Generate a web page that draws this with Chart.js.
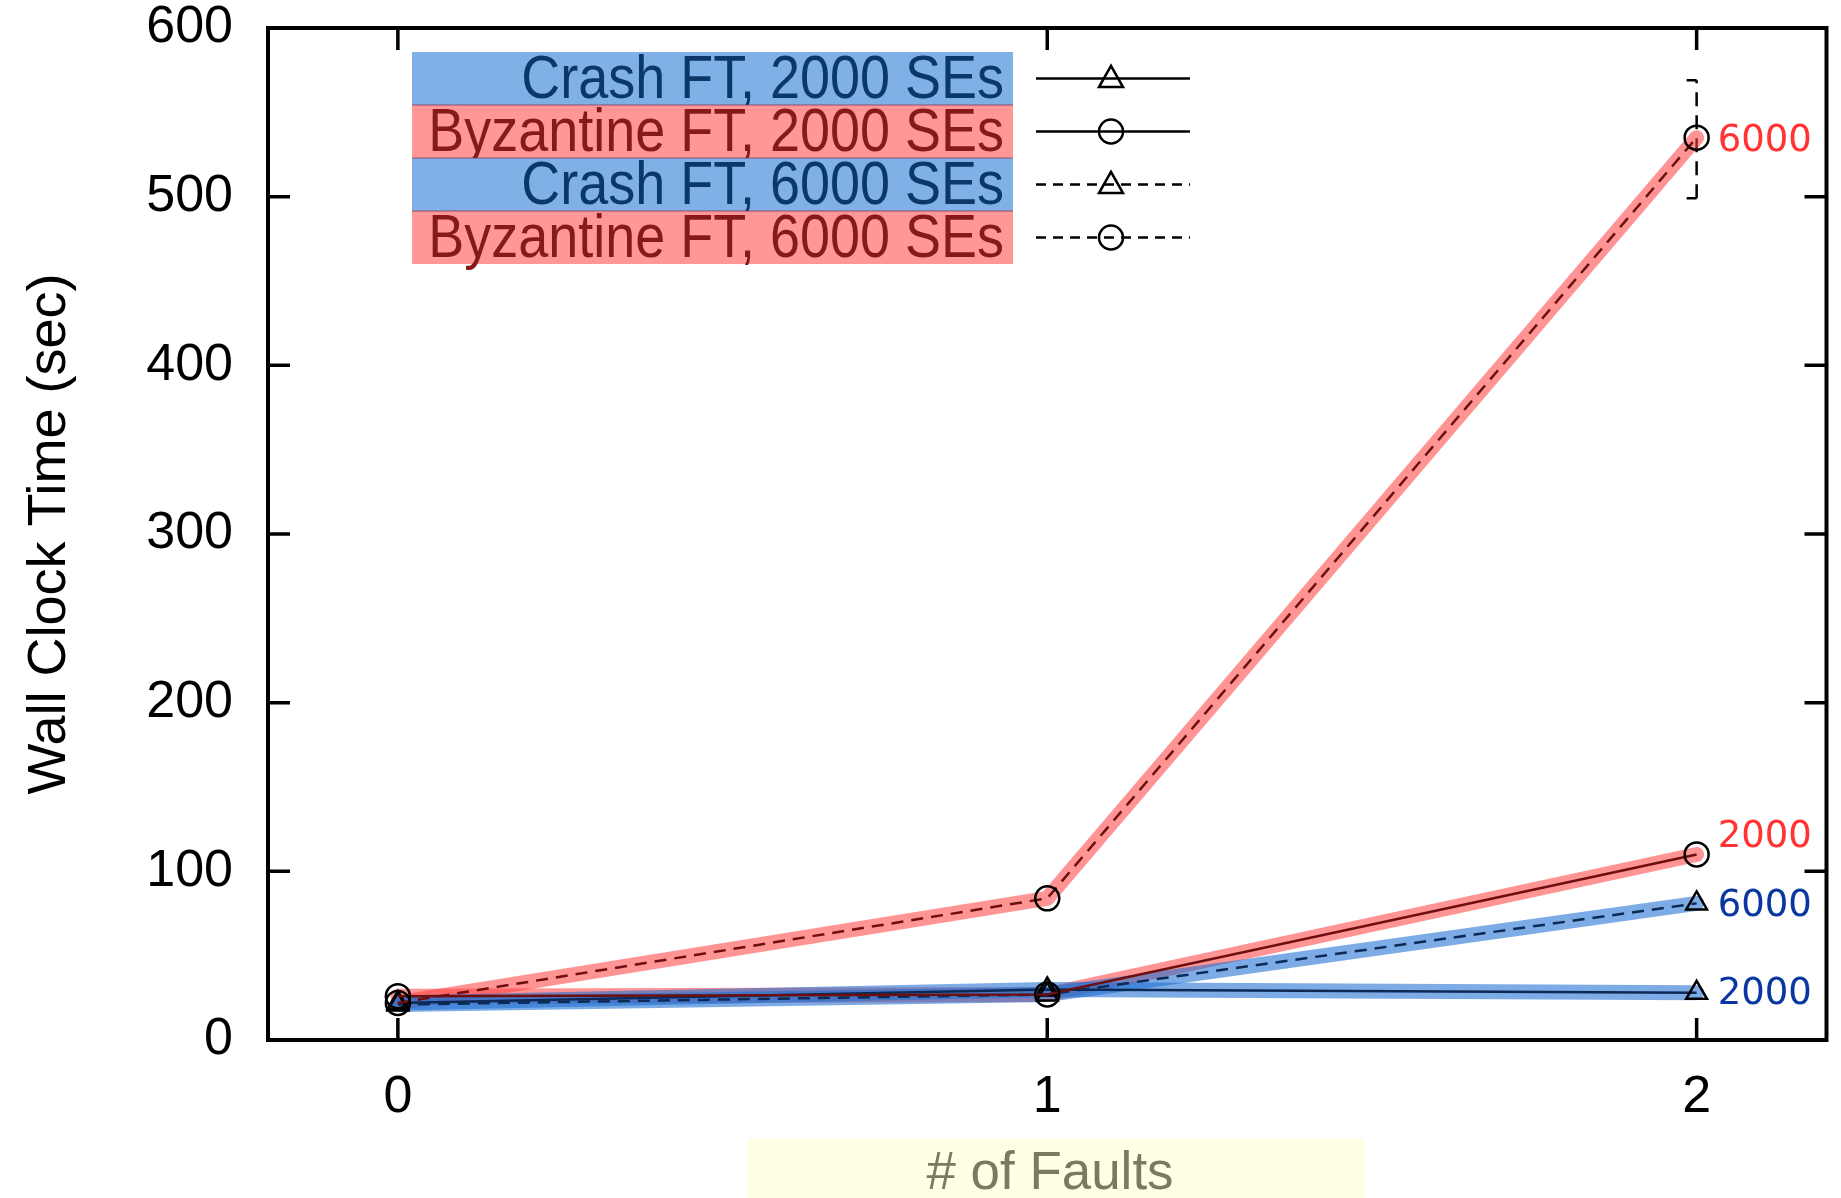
<!DOCTYPE html>
<html>
<head>
<meta charset="utf-8">
<script src="https://cdn.jsdelivr.net/npm/chart.js@4.4.1/dist/chart.umd.min.js"></script>
<style>
  html, body { margin: 0; padding: 0; background: #fff; }
  canvas { display: block; }
</style>
</head>
<body>
<canvas id="faultChart" width="1841" height="1198"></canvas>
<script>
// data
const faults = [0, 1, 2];
const yTicks = [0, 100, 200, 300, 400, 500, 600];
const crash2000 = [22, 30, 28];
const byz2000 = [26, 27, 110];
const crash6000 = [21, 27, 81];
const byz6000 = [22, 84, 535];
const byz6000Low = [21, 82, 499];
const byz6000High = [23, 86, 569];

const seriesNames = ['Crash FT, 2000 SEs', 'Byzantine FT, 2000 SEs', 'Crash FT, 6000 SEs', 'Byzantine FT, 6000 SEs'];
const endLabels = ['2000', '2000', '6000', '6000'];
const endLabelAt = [27, 120, 79, 533]; // value where the end label sits

const RED_BAND = 'rgba(255, 70, 70, 0.58)';
const BLUE_BAND = 'rgba(30, 110, 210, 0.58)';
const RED_LINE = '#6e0f0f';
const BLUE_LINE = '#0d2a57';

const pts = (arr) => faults.map((f, i) => ({x: f, y: arr[i]}));

const band = (arr, color, order) => ({
  data: pts(arr),
  borderColor: color,
  borderWidth: 15,
  pointRadius: 0,
  borderCapStyle: 'round',
  borderJoinStyle: 'round',
  fill: false,
  order: order
});

const thin = (arr, color, dash, style) => ({
  data: pts(arr),
  borderColor: color,
  borderWidth: 2.5,
  borderDash: dash,
  pointStyle: style,
  pointRadius: 12,
  pointBorderColor: '#000',
  pointBorderWidth: 2.5,
  pointBackgroundColor: 'rgba(0,0,0,0)',
  fill: false,
  order: 1
});

const legendStyles = [
  {box: '#80b1e6', text: '#0b3868', dash: [], marker: 'triangle'},
  {box: '#ff9797', text: '#861a1a', dash: [], marker: 'circle'},
  {box: '#80b1e6', text: '#0b3868', dash: [10, 7], marker: 'triangle'},
  {box: '#ff9797', text: '#861a1a', dash: [10, 7], marker: 'circle'}
];
const endColors = ['#0a36a0', '#ff3333', '#0a36a0', '#ff3333'];

function drawMarker(ctx, style, x, y, r) {
  ctx.beginPath();
  if (style === 'circle') {
    ctx.arc(x, y, r, 0, Math.PI * 2);
  } else {
    const h = r * 1.6;
    ctx.moveTo(x, y - h * 0.66);
    ctx.lineTo(x + r, y + h * 0.34 + 2);
    ctx.lineTo(x - r, y + h * 0.34 + 2);
    ctx.closePath();
  }
  ctx.stroke();
}

const decorPlugin = {
  id: 'decor',
  beforeDatasetsDraw(chart) {
    const {ctx, scales: {x, y}} = chart;
    ctx.save();
    // error bar on the byzantine 6000 series
    ctx.strokeStyle = '#000';
    ctx.lineWidth = 2.5;
    faults.forEach((f, i) => {
      const px = x.getPixelForValue(f);
      const lo = y.getPixelForValue(byz6000Low[i]);
      const hi = y.getPixelForValue(byz6000High[i]);
      if (lo - hi < 10) return;
      ctx.setLineDash([14, 9]);
      ctx.beginPath();
      ctx.moveTo(px, lo); ctx.lineTo(px, hi); ctx.stroke();
      ctx.setLineDash([]);
      ctx.beginPath();
      ctx.moveTo(px - 10, lo); ctx.lineTo(px, lo);
      ctx.moveTo(px - 10, hi); ctx.lineTo(px, hi);
      ctx.stroke();
    });
    ctx.restore();
  },
  afterDraw(chart) {
    const {ctx, chartArea: a, scales: {x, y}} = chart;
    ctx.save();

    // frame + inner ticks
    ctx.strokeStyle = '#000';
    ctx.lineWidth = 4;
    ctx.strokeRect(a.left, a.top, a.right - a.left, a.bottom - a.top);
    ctx.lineWidth = 3.5;
    ctx.beginPath();
    yTicks.forEach(v => {
      const py = y.getPixelForValue(v);
      ctx.moveTo(a.left, py); ctx.lineTo(a.left + 22, py);
      ctx.moveTo(a.right, py); ctx.lineTo(a.right - 22, py);
    });
    faults.forEach(v => {
      const px = x.getPixelForValue(v);
      ctx.moveTo(px, a.bottom); ctx.lineTo(px, a.bottom - 22);
      ctx.moveTo(px, a.top); ctx.lineTo(px, a.top + 22);
    });
    ctx.stroke();

    // end labels at x = 2
    ctx.font = '37px "DejaVu Sans"';
    ctx.textAlign = 'left';
    ctx.textBaseline = 'middle';
    endLabels.forEach((t, i) => {
      ctx.fillStyle = endColors[i];
      ctx.fillText(t, x.getPixelForValue(2) + 21, y.getPixelForValue(endLabelAt[i]));
    });

    // legend
    const lx0 = 412, lx1 = 1013, ly0 = 52, rowH = 53;
    seriesNames.forEach((name, i) => {
      const st = legendStyles[i];
      const top = ly0 + i * rowH;
      ctx.fillStyle = st.box;
      ctx.fillRect(lx0, top, lx1 - lx0, rowH);
      ctx.save();
      ctx.translate(1004, top + rowH / 2 + 2);
      ctx.scale(0.87, 1);
      ctx.fillStyle = st.text;
      ctx.font = '62px "Liberation Sans", Arial, sans-serif';
      ctx.textAlign = 'right';
      ctx.textBaseline = 'middle';
      ctx.fillText(name, 0, 0);
      ctx.restore();
      const cy = top + rowH / 2;
      ctx.strokeStyle = '#000';
      ctx.lineWidth = 2.5;
      ctx.setLineDash(st.dash);
      ctx.beginPath();
      ctx.moveTo(1036, cy); ctx.lineTo(1190, cy);
      ctx.stroke();
      ctx.setLineDash([]);
      drawMarker(ctx, st.marker, 1111, cy, 12);
    });
    ctx.fillStyle = 'rgba(120, 40, 80, 0.35)';
    for (let i = 1; i < 4; i++) ctx.fillRect(lx0, ly0 + i * rowH - 1, lx1 - lx0, 2);

    // y title
    ctx.save();
    ctx.translate(50, 534);
    ctx.rotate(-Math.PI / 2);
    ctx.fillStyle = '#000';
    ctx.font = '54px "Liberation Sans", Arial, sans-serif';
    ctx.textAlign = 'center';
    ctx.textBaseline = 'middle';
    ctx.fillText('Wall Clock Time (sec)', 0, 0);
    ctx.restore();

    // x title with its pale box
    ctx.fillStyle = '#ffffe3';
    ctx.fillRect(748, 1139, 617, 59);
    ctx.save();
    ctx.translate(1050, 1174);
    ctx.scale(0.98, 1);
    ctx.fillStyle = '#7a7a60';
    ctx.font = '54px "Liberation Sans", Arial, sans-serif';
    ctx.textAlign = 'center';
    ctx.textBaseline = 'middle';
    ctx.fillText('# of Faults', 0, 0);
    ctx.restore();

    ctx.restore();
  }
};

const chart = new Chart(document.getElementById('faultChart'), {
  type: 'line',
  data: {
    datasets: [
      band(byz6000, RED_BAND, 5),
      band(byz2000, RED_BAND, 5),
      band(crash6000, BLUE_BAND, 4),
      band(crash2000, BLUE_BAND, 4),
      thin(byz6000, RED_LINE, [12, 8], 'circle'),
      thin(byz2000, RED_LINE, [], 'circle'),
      thin(crash6000, BLUE_LINE, [12, 8], 'triangle'),
      thin(crash2000, BLUE_LINE, [], 'triangle')
    ]
  },
  options: {
    responsive: false,
    animation: false,
    layout: {padding: {top: 28, right: 9, left: 0, bottom: 0}},
    plugins: {
      legend: {display: false},
      tooltip: {enabled: false}
    },
    scales: {
      x: {
        type: 'linear',
        min: -0.2,
        max: 2.2,
        afterFit: (s) => { s.height = 158; s.paddingLeft = 0; s.paddingRight = 0; },
        afterBuildTicks: (s) => { s.ticks = faults.map(v => ({value: v})); },
        grid: {display: false, drawTicks: false},
        border: {display: false},
        ticks: {
          padding: 26,
          color: '#000',
          font: {family: '"Liberation Sans", Arial, sans-serif', size: 52}
        }
      },
      y: {
        min: 0,
        max: 600,
        afterFit: (s) => { s.width = 268; s.paddingTop = 0; s.paddingBottom = 0; },
        afterBuildTicks: (s) => { s.ticks = yTicks.map(v => ({value: v})); },
        grid: {display: false, drawTicks: false},
        border: {display: false},
        ticks: {
          padding: 35,
          color: '#000',
          font: {family: '"Liberation Sans", Arial, sans-serif', size: 52}
        }
      }
    }
  },
  plugins: [decorPlugin]
});
</script>
</body>
</html>
